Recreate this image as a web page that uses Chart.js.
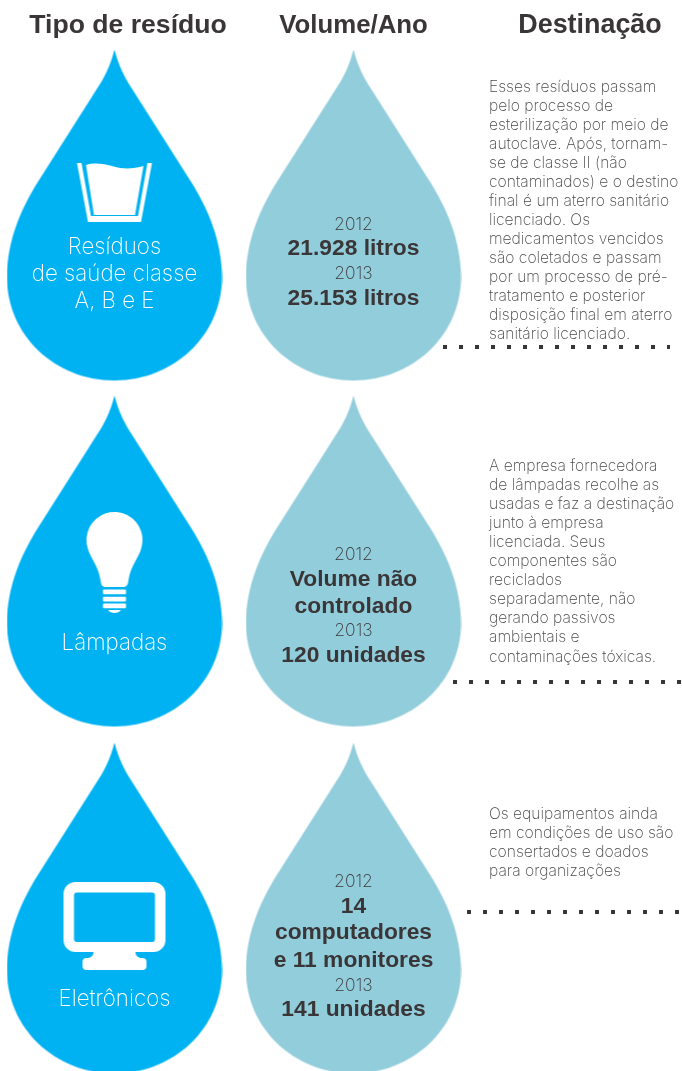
<!DOCTYPE html>
<html lang="pt">
<head>
<meta charset="utf-8">
<title>Tipo de resíduo</title>
<style>
  html, body { margin: 0; padding: 0; background: #fff; overflow: hidden; }
  canvas { display: block; }
</style>
<script src="https://cdn.jsdelivr.net/npm/chart.js@4"></script>
</head>
<body>
<canvas id="myChart" width="682" height="1071"></canvas>
<script>
/* Data */
const headers = ['Tipo de resíduo', 'Volume/Ano', 'Destinação'];
const categories = [
  ['Resíduos', 'de saúde classe', 'A, B e E'],
  ['Lâmpadas'],
  ['Eletrônicos'],
];
const years = ['2012', '2013'];
const volumes2012 = [
  ['21.928 litros'],
  ['Volume não', 'controlado'],
  ['14', 'computadores', 'e 11 monitores'],
];
const volumes2013 = ['25.153 litros', '120 unidades', '141 unidades'];
const destinations = [
  ['Esses resíduos passam', 'pelo processo de', 'esterilização por meio de', 'autoclave. Após, tornam-',
    'se de classe II (não', 'contaminados) e o destino', 'final é um aterro sanitário', 'licenciado. Os',
    'medicamentos vencidos', 'são coletados e passam', 'por um processo de pré-', 'tratamento e posterior',
    'disposição final em aterro', 'sanitário licenciado.'],
  ['A empresa fornecedora', 'de lâmpadas recolhe as', 'usadas e faz a destinação', 'junto à empresa',
    'licenciada. Seus', 'componentes são', 'reciclados', 'separadamente, não',
    'gerando passivos', 'ambientais e', 'contaminações tóxicas.'],
  ['Os equipamentos ainda', 'em condições de uso são', 'consertados e doados', 'para organizações'],
];

/* Layout */
const dropCols = [114.5, 353.5];
const dropCenterY = [215.5, 561.5, 908.5];
const iconY = [193, 562, 926];
const headerX = [128, 353.5, 590];
const headerSize = [26.6, 25.8, 26.9];
const labelBase = [[254, 281, 308], [650], [1006]];
const volumeBase = [
  [230, 255, 279, 305],
  [560, 586, 613, 636, 662],
  [887, 913, 939, 967, 991, 1016],
];
const destBase = [91.5, 471, 818.5];
const dotLines = [[443, 670, 347], [453, 682, 682], [467, 682, 912]];

const BLUE = '#00b2f2';
const PALE = '#92cddc';
const DARK = '#3a3637';
const GREY = '#4a494b';
const LIGHT = '"Inter", "Liberation Sans", sans-serif';
const BOLD = '"Liberation Sans", Arial, sans-serif';

/* Stamps for the scatter points */
function stamp(w, h, paint) {
  const c = document.createElement('canvas');
  c.width = w;
  c.height = h;
  const g = c.getContext('2d');
  g.translate(w / 2, h / 2);
  g.fillStyle = '#fff';
  paint(g);
  return c;
}

function dropStamp(color) {
  return stamp(216, 332, function (g) {
    g.translate(0, -166);
    g.fillStyle = color;
    g.beginPath();
    g.moveTo(0, 0);
    g.bezierCurveTo(4, 16, 10, 28, 18, 40);
    g.lineTo(77, 133);
    g.bezierCurveTo(92, 157, 107.5, 190, 107.5, 228);
    g.bezierCurveTo(107.5, 286, 59, 331, 0, 331);
    g.bezierCurveTo(-59, 331, -107.5, 286, -107.5, 228);
    g.bezierCurveTo(-107.5, 190, -92, 157, -77, 133);
    g.lineTo(-18, 40);
    g.bezierCurveTo(-10, 28, -4, 16, 0, 0);
    g.closePath();
    g.fill();
  });
}

function glassStamp() {
  return stamp(80, 64, function (g) {
    g.beginPath();
    g.moveTo(-37.5, -30);
    g.lineTo(-33, -30);
    g.lineTo(-23.5, 23);
    g.lineTo(23.5, 23);
    g.lineTo(33, -30);
    g.lineTo(37.5, -30);
    g.lineTo(26.5, 29);
    g.lineTo(-26.5, 29);
    g.closePath();
    g.fill();
    g.beginPath();
    g.moveTo(-28.5, -28);
    g.bezierCurveTo(-16, -32, -4, -27, 6, -25);
    g.bezierCurveTo(14, -24, 22, -25, 29, -27);
    g.lineTo(20.5, 22);
    g.lineTo(-20.5, 22);
    g.closePath();
    g.fill();
  });
}

function bulbStamp() {
  return stamp(60, 104, function (g) {
    g.beginPath();
    g.arc(0, -22, 28, Math.PI * 0.9, Math.PI * 0.1);
    g.bezierCurveTo(25, -6, 16, 4, 14, 18);
    g.bezierCurveTo(13.5, 23, 12, 25, 9, 25);
    g.lineTo(-9, 25);
    g.bezierCurveTo(-12, 25, -13.5, 23, -14, 18);
    g.bezierCurveTo(-16, 4, -25, -6, -26.6, -13.3);
    g.closePath();
    g.fill();
    [27.5, 34.7, 41.5].forEach(function (y) {
      g.beginPath();
      g.roundRect(-11.5, y, 23, 4.7, 1);
      g.fill();
    });
    g.beginPath();
    g.moveTo(-6.5, 48);
    g.lineTo(6.5, 48);
    g.bezierCurveTo(5, 50, 3, 51, 0, 51);
    g.bezierCurveTo(-3, 51, -5, 50, -6.5, 48);
    g.fill();
  });
}

function monitorStamp() {
  return stamp(104, 90, function (g) {
    g.beginPath();
    g.roundRect(-51, -44, 102, 70, 12);
    g.roundRect(-40.5, -33.5, 81, 49.5, 3);
    g.fill('evenodd');
    g.beginPath();
    g.moveTo(-21, 26);
    g.lineTo(21, 26);
    g.bezierCurveTo(21, 30, 24, 32, 28, 32);
    g.lineTo(-28, 32);
    g.bezierCurveTo(-24, 32, -21, 30, -21, 26);
    g.fill();
    g.beginPath();
    g.roundRect(-32, 32, 64, 12, 4);
    g.fill();
  });
}

const dropPoints = [];
const dropStyles = [];
dropCenterY.forEach(function (y) {
  dropCols.forEach(function (x, i) {
    dropPoints.push({ x: x, y: y });
    dropStyles.push(dropStamp(i === 0 ? BLUE : PALE));
  });
});

const iconPoints = iconY.map(function (y) {
  return { x: dropCols[0], y: y };
});
const iconStyles = [glassStamp(), bulbStamp(), monitorStamp()];

const dotSets = dotLines.map(function (d) {
  return {
    type: 'line',
    data: [{ x: d[0], y: d[2] }, { x: d[1], y: d[2] }],
    borderColor: DARK,
    borderWidth: 4,
    borderDash: [4, 12],
    pointRadius: 0,
    tension: 0,
  };
});

/* All the words */
const textPlugin = {
  id: 'texts',
  afterDatasetsDraw: function (chart) {
    const g = chart.ctx;
    const sx = chart.scales.x;
    const sy = chart.scales.y;

    function put(str, x, y, font, color, align) {
      g.font = font;
      g.fillStyle = color;
      g.textAlign = align || 'center';
      g.textBaseline = 'alphabetic';
      g.fillText(str, sx.getPixelForValue(x), sy.getPixelForValue(y));
    }

    g.save();
    headerX.forEach(function (x, i) {
      put(headers[i], x, 33, 'bold ' + headerSize[i] + 'px ' + BOLD, DARK);
    });

    categories.forEach(function (lines, i) {
      lines.forEach(function (line, j) {
        put(line, dropCols[0], labelBase[i][j], '200 22.3px ' + LIGHT, '#fff');
      });
    });

    volumes2012.forEach(function (lines, i) {
      const base = volumeBase[i];
      put(years[0], dropCols[1], base[0], '200 17.5px ' + LIGHT, DARK);
      lines.forEach(function (line, j) {
        put(line, dropCols[1], base[j + 1], 'bold 22.8px ' + BOLD, DARK);
      });
      put(years[1], dropCols[1], base[lines.length + 1], '200 17.5px ' + LIGHT, DARK);
      put(volumes2013[i], dropCols[1], base[lines.length + 2], 'bold 22.8px ' + BOLD, DARK);
    });

    destinations.forEach(function (lines, i) {
      lines.forEach(function (line, j) {
        put(line, 489, destBase[i] + j * 19.05, '250 15.65px ' + LIGHT, GREY, 'left');
      });
    });
    g.restore();
  },
};

var ctx = document.getElementById('myChart').getContext('2d');
new Chart(ctx, {
  type: 'scatter',
  data: {
    datasets: [
      { data: iconPoints, pointStyle: iconStyles, pointRadius: 10 },
      { data: dropPoints, pointStyle: dropStyles, pointRadius: 10 },
    ].concat(dotSets),
  },
  options: {
    responsive: false,
    animation: false,
    events: [],
    layout: { padding: 0, autoPadding: false },
    plugins: { legend: { display: false }, tooltip: { enabled: false } },
    scales: {
      x: { type: 'linear', min: 0, max: 682, display: false },
      y: { type: 'linear', min: 0, max: 1071, reverse: true, display: false },
    },
  },
  plugins: [textPlugin],
});
</script>
</body>
</html>
